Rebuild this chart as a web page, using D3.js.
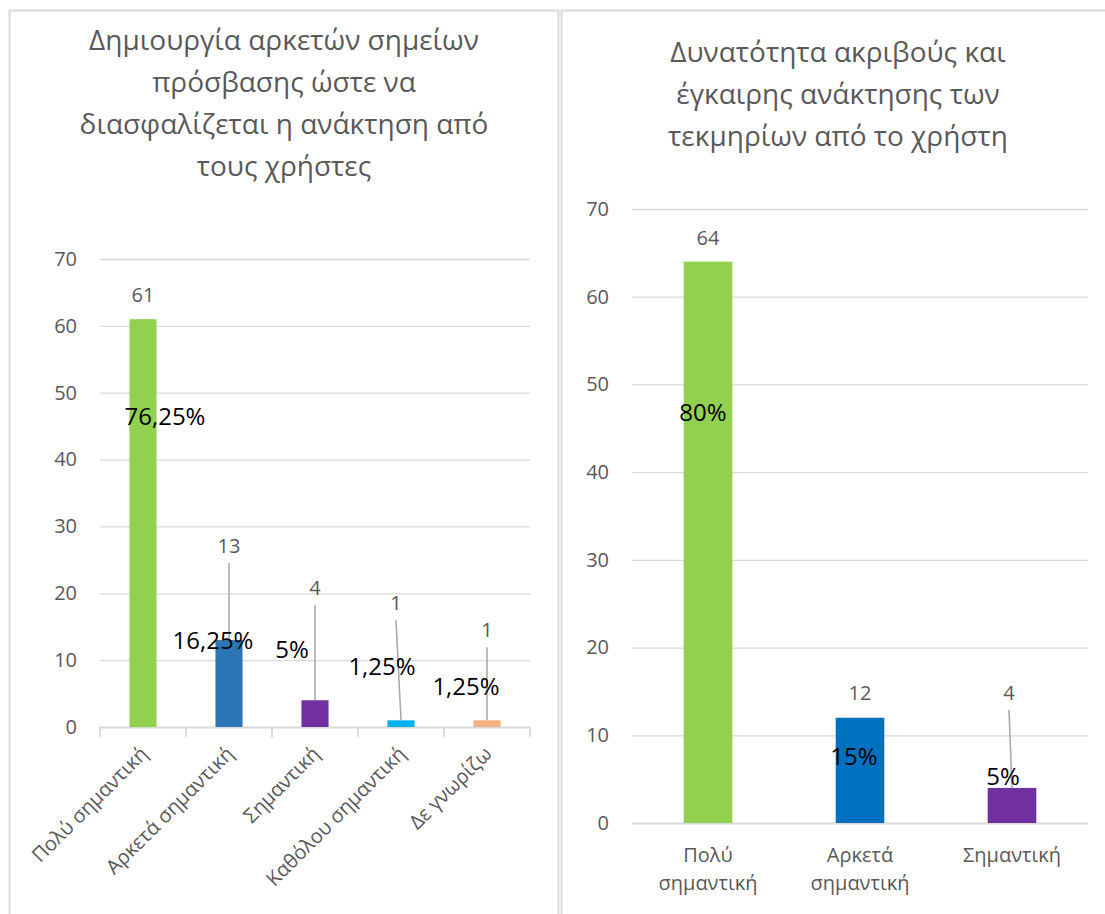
<!DOCTYPE html>
<html>
<head>
<meta charset="utf-8">
<script src="https://cdn.jsdelivr.net/npm/d3@7"></script>
<style>
  html, body { margin: 0; padding: 0; background: #fff; }
  svg { display: block; font-family: "Open Sans", "Noto Sans", sans-serif; }
</style>
</head>
<body>
<svg id="chart" width="1105" height="914"></svg>
<script>
// ---------- data ----------
const leftTitle = ["Δημιουργία αρκετών σημείων", "πρόσβασης ώστε να", "διασφαλίζεται η ανάκτηση από", "τους χρήστες"];
const leftCategories = ["Πολύ σημαντική", "Αρκετά σημαντική", "Σημαντική", "Καθόλου σημαντική", "Δε γνωρίζω"];
const leftValues = [61, 13, 4, 1, 1];
const leftPercents = ["76,25%", "16,25%", "5%", "1,25%", "1,25%"];

const rightTitle = ["Δυνατότητα ακριβούς και", "έγκαιρης ανάκτησης των", "τεκμηρίων από το χρήστη"];
const rightCategories = ["Πολύ σημαντική", "Αρκετά σημαντική", "Σημαντική"];
const rightValues = [64, 12, 4];
const rightPercents = ["80%", "15%", "5%"];

const yTickValues = [0, 10, 20, 30, 40, 50, 60, 70];
const yMax = 70;

// ---------- styles / layout ----------
const leftColors = ["#92D050", "#2E75B6", "#7030A0", "#00B0F0", "#F4B183"];
const rightColors = ["#92D050", "#0070C0", "#7030A0"];
const textGray = "#595959";
const gridGray = "#d9d9d9";
const leaderGray = "#a6a6a6";

// label offsets (pixels) relative to bar centre / bar top
const leftValueLayout = [{dx:0,dy:-24,leader:false},{dx:0,dy:-94,leader:true},{dx:0,dy:-112,leader:true},{dx:-5,dy:-117,leader:true},{dx:0,dy:-90,leader:true}];
const leftPctLayout = [{dx:22,dy:97},{dx:-16,dy:1},{dx:-23,dy:-51},{dx:-19,dy:-54},{dx:-21,dy:-34}];
const rightValueLayout = [{dx:0,dy:-24,leader:false},{dx:0,dy:-25,leader:false},{dx:-3,dy:-95,leader:true}];
const rightPctLayout = [{dx:-5,dy:151},{dx:-6,dy:39},{dx:-9,dy:-11}];

const svg = d3.select("#chart");

// panel borders
svg.append("rect").attr("x", 9.5).attr("y", 10.5).attr("width", 549).attr("height", 960)
  .attr("fill", "none").attr("stroke", gridGray).attr("stroke-width", 2);
svg.append("rect").attr("x", 561.5).attr("y", 10.5).attr("width", 600).attr("height", 960)
  .attr("fill", "none").attr("stroke", gridGray).attr("stroke-width", 2);

function drawChart(cfg) {
  const g = svg.append("g");
  const x = d3.scaleBand().domain(cfg.categories).range([cfg.x0, cfg.x1]).padding(0);
  const y = d3.scaleLinear().domain([0, yMax]).range([cfg.yBottom, cfg.yTop]);
  const barW = x.step() * cfg.barFrac;

  // title
  const t = g.append("text").attr("text-anchor", "middle").attr("fill", textGray)
    .attr("font-size", cfg.titleSize);
  cfg.title.forEach((line, i) => {
    t.append("tspan").attr("x", cfg.titleX).attr("y", cfg.titleY + i * cfg.titleLead).text(line);
  });

  // y axis with gridlines
  const yAxis = d3.axisLeft(y).tickValues(yTickValues).tickSize(-(cfg.x1 - cfg.x0)).tickPadding(23).tickFormat(d3.format("d"));
  const ya = g.append("g").attr("transform", `translate(${cfg.x0},0)`).call(yAxis);
  ya.select(".domain").remove();
  ya.selectAll(".tick line").attr("stroke", gridGray).attr("stroke-width", 1.3);
  ya.selectAll(".tick text").attr("fill", textGray).attr("font-size", 20).attr("font-family", "Open Sans");
  ya.selectAll(".tick").filter(d => d === 0).select("line").attr("stroke-width", 1.8);

  // x tick marks between categories
  if (cfg.tickMarks) {
    const bounds = cfg.categories.map(c => x(c)).concat([cfg.x1]);
    g.selectAll(".xt").data(bounds).enter().append("line")
      .attr("x1", d => d).attr("x2", d => d)
      .attr("y1", cfg.yBottom).attr("y2", cfg.yBottom + 10)
      .attr("stroke", gridGray).attr("stroke-width", 1.8);
  }

  // bars
  g.selectAll(".bar").data(cfg.values).enter().append("rect")
    .attr("x", (d, i) => x(cfg.categories[i]) + x.bandwidth() / 2 - barW / 2)
    .attr("y", d => y(d))
    .attr("width", barW)
    .attr("height", d => y(0) - y(d))
    .attr("fill", (d, i) => cfg.colors[i]);

  // leader lines
  cfg.values.forEach((v, i) => {
    const L = cfg.valueLayout[i];
    if (!L.leader) return;
    const cx = x(cfg.categories[i]) + x.bandwidth() / 2;
    g.append("line")
      .attr("x1", cx + L.dx).attr("y1", y(v) + L.dy + 17)
      .attr("x2", cx).attr("y2", y(v))
      .attr("stroke", leaderGray).attr("stroke-width", 1.5);
  });

  // value labels
  g.selectAll(".val").data(cfg.values).enter().append("text")
    .attr("x", (d, i) => x(cfg.categories[i]) + x.bandwidth() / 2 + cfg.valueLayout[i].dx)
    .attr("y", (d, i) => y(d) + cfg.valueLayout[i].dy)
    .attr("dy", "0.35em")
    .attr("text-anchor", "middle").attr("fill", textGray).attr("font-size", 20)
    .text(d => d);

  // percent labels
  g.selectAll(".pct").data(cfg.percents).enter().append("text")
    .attr("x", (d, i) => x(cfg.categories[i]) + x.bandwidth() / 2 + cfg.pctLayout[i].dx)
    .attr("y", (d, i) => y(cfg.values[i]) + cfg.pctLayout[i].dy)
    .attr("dy", "0.35em")
    .attr("text-anchor", "middle").attr("fill", "#000").attr("font-size", 24)
    .text(d => d);

  // category labels
  if (cfg.rotate) {
    g.selectAll(".cat").data(cfg.categories).enter().append("text")
      .attr("transform", d => `translate(${x(d) + x.bandwidth() / 2 + 1},${cfg.yBottom + 23}) rotate(-45)`)
      .attr("text-anchor", "end").attr("dy", "0.35em")
      .attr("fill", textGray).attr("font-size", 20)
      .text(d => d);
  } else {
    cfg.categories.forEach(c => {
      const words = c.split(" ");
      const tx = g.append("text").attr("text-anchor", "middle").attr("fill", textGray).attr("font-size", 20);
      words.forEach((w, k) => {
        tx.append("tspan").attr("x", x(c) + x.bandwidth() / 2).attr("y", cfg.yBottom + 39 + k * 28).text(w);
      });
    });
  }
}

drawChart({
  title: leftTitle, titleX: 284, titleY: 50, titleLead: 42, titleSize: 28,
  categories: leftCategories, values: leftValues, percents: leftPercents, colors: leftColors,
  x0: 100, x1: 530, yTop: 259, yBottom: 727, barFrac: 0.315,
  valueLayout: leftValueLayout, pctLayout: leftPctLayout, tickMarks: true, rotate: true
});

drawChart({
  title: rightTitle, titleX: 838, titleY: 62, titleLead: 42, titleSize: 28,
  categories: rightCategories, values: rightValues, percents: rightPercents, colors: rightColors,
  x0: 632, x1: 1088, yTop: 209, yBottom: 823, barFrac: 0.32,
  valueLayout: rightValueLayout, pctLayout: rightPctLayout, tickMarks: false, rotate: false
});
</script>
</body>
</html>
